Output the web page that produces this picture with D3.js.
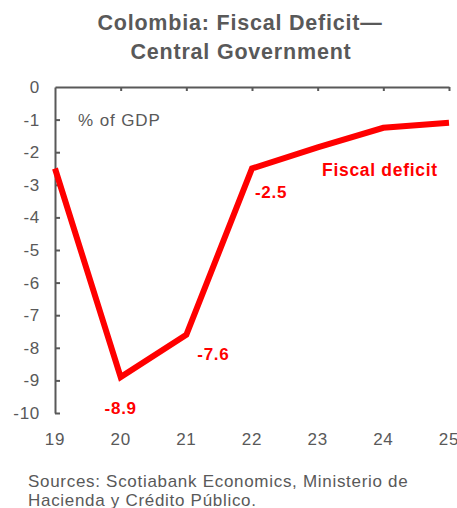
<!DOCTYPE html>
<html>
<head>
<meta charset="utf-8">
<script src="https://cdn.jsdelivr.net/npm/d3@7"></script>
<style>
  body { margin: 0; background: #fff; }
  text { font-family: "Liberation Sans", Arial, sans-serif; letter-spacing: 0.7px; }
</style>
</head>
<body>
<div id="chart"></div>
<script>
// data
let years = ["19", "20", "21", "22", "23", "24", "25"]
let deficit = [-2.5, -8.9, -7.6, -2.5, -1.85, -1.25, -1.1]
let yTicks = [0, -1, -2, -3, -4, -5, -6, -7, -8, -9, -10]
let labelled = [
    { i: 1, text: "-8.9", dx: 0, dy: 37 },
    { i: 2, text: "-7.6", dx: 27, dy: 25 },
    { i: 3, text: "-2.5", dx: 19, dy: 29 }
]

let svgWidth = 457
let svgHeight = 508
let margin = { top: 87, right: 8, bottom: 95, left: 55 }
let width = svgWidth - margin.left - margin.right
let height = svgHeight - margin.top - margin.bottom
let grey = "#595959"

let svg = d3.select("#chart")
    .append("svg")
    .attr("width", svgWidth)
    .attr("height", svgHeight)

// title
let title = svg.append("text")
    .attr("text-anchor", "middle")
    .attr("font-size", "21.5px")
    .attr("font-weight", "bold")
    .attr("fill", grey)
    .style("letter-spacing", "0.8px")
title.append("tspan").attr("x", 240).attr("y", 30).text("Colombia: Fiscal Deficit\u2014")
title.append("tspan").attr("x", 241).attr("y", 59).text("Central Government")

let chartGroup = svg.append("g")
    .attr("transform", `translate(${margin.left}, ${margin.top})`)

// scales
let x = d3.scalePoint()
    .domain(years)
    .range([0, width])
let y = d3.scaleLinear()
    .domain([0, -10])
    .range([0, height])

// top axis (ticks pointing down, no labels)
let topAxis = chartGroup.append("g")
    .call(d3.axisBottom(x).tickSizeInner(4).tickSizeOuter(0).tickFormat(""))
topAxis.select(".domain").attr("stroke", grey).attr("stroke-width", 2)
topAxis.selectAll(".tick line").attr("stroke", grey).attr("stroke-width", 2)
topAxis.selectAll(".tick").filter(d => d === "19").remove()

// x labels along the bottom
chartGroup.selectAll(".xlab")
    .data(years)
    .enter()
    .append("text")
    .attr("class", "xlab")
    .attr("x", d => x(d))
    .attr("y", height + 32)
    .attr("text-anchor", "middle")
    .attr("font-size", "17px")
    .attr("fill", grey)
    .text(d => d)

// left axis, ticks pointing right
let leftAxis = chartGroup.append("g")
    .call(d3.axisRight(y).tickValues(yTicks).tickSizeInner(5).tickSizeOuter(0).tickFormat(""))
leftAxis.select(".domain").attr("stroke", grey).attr("stroke-width", 2)
leftAxis.selectAll(".tick line").attr("stroke", grey).attr("stroke-width", 2)
leftAxis.selectAll(".tick").filter(d => d === 0).remove()

chartGroup.selectAll(".ylab")
    .data(yTicks)
    .enter()
    .append("text")
    .attr("class", "ylab")
    .attr("x", -15)
    .attr("y", d => y(d) + 6)
    .attr("text-anchor", "end")
    .attr("font-size", "17px")
    .attr("fill", grey)
    .text(d => d)

chartGroup.append("text")
    .attr("x", 23)
    .attr("y", 39)
    .attr("font-size", "17px")
    .attr("fill", grey)
    .style("letter-spacing", "0.9px")
    .text("% of GDP")

// the line
let line = d3.line()
    .x((d, i) => x(years[i]))
    .y(d => y(d))

chartGroup.append("path")
    .datum(deficit)
    .attr("d", line)
    .attr("fill", "none")
    .attr("stroke", "#ff0000")
    .attr("stroke-width", 6)
    .attr("stroke-linejoin", "miter")

chartGroup.selectAll(".vlab")
    .data(labelled)
    .enter()
    .append("text")
    .attr("class", "vlab")
    .attr("x", d => x(years[d.i]) + d.dx)
    .attr("y", d => y(deficit[d.i]) + d.dy)
    .attr("text-anchor", "middle")
    .attr("font-size", "17px")
    .attr("font-weight", "bold")
    .attr("fill", "#ff0000")
    .text(d => d.text)

chartGroup.append("text")
    .attr("x", 267)
    .attr("y", 89)
    .attr("font-size", "17.5px")
    .attr("font-weight", "bold")
    .attr("fill", "#ff0000")
    .text("Fiscal deficit")

// source note
let src = svg.append("text")
    .attr("font-size", "17px")
    .attr("fill", grey)
src.append("tspan").attr("x", 28).attr("y", 487).text("Sources: Scotiabank Economics, Ministerio de")
src.append("tspan").attr("x", 28).attr("y", 506).text("Hacienda y Cr\u00e9dito P\u00fablico.")
</script>
</body>
</html>
